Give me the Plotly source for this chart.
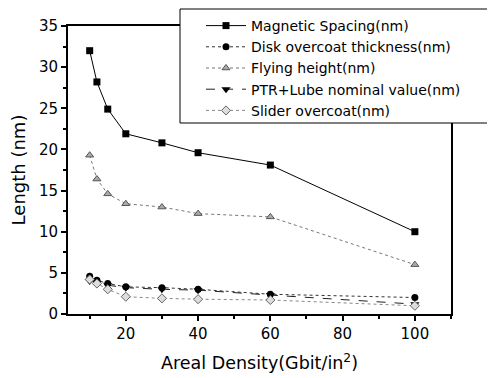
import plotly.graph_objects as go

density = [10, 12, 15, 20, 30, 40, 60, 100]
magnetic_spacing = [32.0, 28.2, 24.9, 21.9, 20.8, 19.6, 18.1, 10.0]
disk_overcoat = [4.6, 4.1, 3.7, 3.3, 3.2, 3.0, 2.4, 2.0]
flying_height = [19.3, 16.4, 14.6, 13.4, 13.0, 12.2, 11.8, 6.0]
ptr_lube = [4.0, 3.8, 3.5, 3.2, 3.0, 2.9, 2.3, 1.2]
slider_overcoat = [4.2, 3.7, 3.0, 2.1, 1.9, 1.8, 1.7, 1.0]

names = ["Magnetic Spacing(nm)", "Disk overcoat thickness(nm)", "Flying height(nm)",
         "PTR+Lube nominal value(nm)", "Slider overcoat(nm)"]

FONT = "DejaVu Sans, Liberation Sans, sans-serif"

# figure is offset 8px by the page body margin; figure size 487x370
# paper spans figure x 60..480, y 0..306; plot area figure x 60..443, y 18..306
PW, PH = 420.0, 306.0
L = 60

fig = go.Figure()
fig.add_trace(go.Scatter(x=density, y=magnetic_spacing, name=names[0], mode="lines+markers",
                         line=dict(color="black", width=1),
                         marker=dict(symbol="square", size=7, color="black")))
fig.add_trace(go.Scatter(x=density, y=disk_overcoat, name=names[1], mode="lines+markers",
                         line=dict(color="#333", width=1, dash="dot"),
                         marker=dict(symbol="circle", size=7, color="black")))
fig.add_trace(go.Scatter(x=density, y=flying_height, name=names[2], mode="lines+markers",
                         line=dict(color="#777", width=1, dash="dot"),
                         marker=dict(symbol="triangle-up", size=7, color="#aaa",
                                     line=dict(color="#555", width=1))))
fig.add_trace(go.Scatter(x=density, y=ptr_lube, name=names[3], mode="lines+markers",
                         line=dict(color="#222", width=1, dash="dash"),
                         marker=dict(symbol="triangle-down", size=8, color="black")))
fig.add_trace(go.Scatter(x=density, y=slider_overcoat, name=names[4], mode="lines+markers",
                         line=dict(color="#888", width=1, dash="dot"),
                         marker=dict(symbol="diamond", size=7, color="#ddd",
                                     line=dict(color="#666", width=1))))

# legend frame (drawn as a shape so the box can be taller than its entries)
fig.add_shape(type="rect", xref="paper", yref="paper",
              x0=(172 - L) / PW, x1=(480 - L) / PW,
              y0=(306 - 115) / PH, y1=(306 - 1) / PH,
              line=dict(color="black", width=1), fillcolor="white", layer="above")

axis_font = dict(family=FONT, size=15, color="black")
fig.update_layout(
    width=487, height=370,
    margin=dict(l=L, r=7, t=0, b=64, autoexpand=False),
    paper_bgcolor="white", plot_bgcolor="white",
    font=dict(family=FONT, color="black"),
    showlegend=True,
    legend=dict(x=(193 - L) / PW, y=(306 - 2) / PH,
                xanchor="left", yanchor="top",
                bgcolor="rgba(0,0,0,0)", borderwidth=0,
                font=dict(size=14, color="black", family=FONT), tracegroupgap=0,
                itemwidth=40),
    xaxis=dict(domain=[0, (443 - L) / PW],
               range=[4, 110], tickvals=[20, 40, 60, 80, 100], ticks="outside",
               ticklen=5, tickwidth=1.5, tickcolor="black",
               minor=dict(tickvals=[10, 30, 50, 70, 90, 110], ticks="outside", ticklen=3, tickcolor="black"),
               showline=True, linecolor="black", linewidth=2, mirror=True,
               showgrid=False, zeroline=False, tickfont=axis_font,
               title=dict(text="Areal Density(Gbit/in<sup>2</sup>)", font=dict(size=17.5))),
    yaxis=dict(domain=[0, (306 - 18) / PH],
               range=[0, 35], tickvals=[0, 5, 10, 15, 20, 25, 30, 35], ticks="outside",
               ticklen=5, tickwidth=1.5, tickcolor="black",
               minor=dict(tickvals=[2.5, 7.5, 12.5, 17.5, 22.5, 27.5, 32.5], ticks="outside", ticklen=3, tickcolor="black"),
               showline=True, linecolor="black", linewidth=2, mirror=True,
               showgrid=False, zeroline=False, tickfont=axis_font,
               title=dict(text="Length (nm)", font=dict(size=18))),
)

fig.write_html("out.html")
